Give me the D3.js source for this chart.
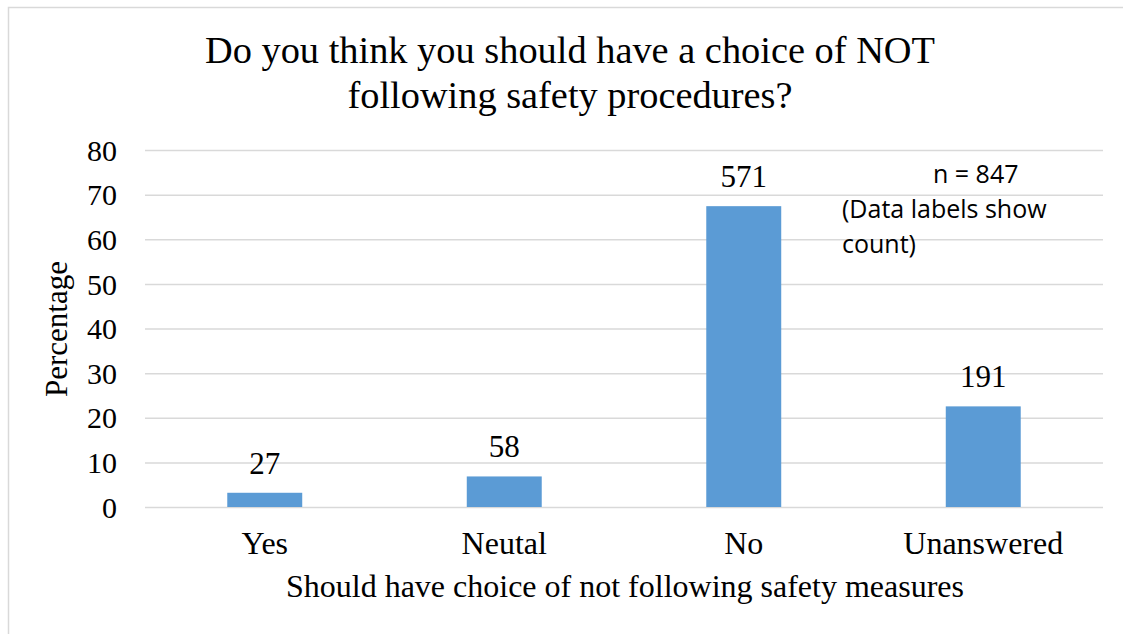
<!DOCTYPE html>
<html>
<head>
<meta charset="utf-8">
<script src="https://cdn.jsdelivr.net/npm/d3@7"></script>
<style>
  html, body { margin: 0; padding: 0; background: #fff; }
  svg { display: block; }
  .serif { font-family: "Liberation Serif", "Times New Roman", serif; fill: #000; }
  .sans { font-family: "Open Sans", "Liberation Sans", sans-serif; fill: #000; }
</style>
</head>
<body>
<svg id="chart" width="1123" height="634"></svg>
<script>
// Survey responses (counts); bar heights are the share of all respondents
const categories = ["Yes", "Neutal", "No", "Unanswered"];
const counts = [27, 58, 571, 191];
const totalRespondents = 847;
const yTicks = [0, 10, 20, 30, 40, 50, 60, 70, 80];
const titleLines = ["Do you think you should have a choice of NOT", "following safety procedures?"];
const noteLines = ["n = 847", "(Data labels show", "count)"];

const percents = counts.map(c => c / totalRespondents * 100);

const svg = d3.select("#chart");
const W = 1123, H = 634;
const plot = { left: 145, right: 1103, top: 150, bottom: 507 };

// chart frame
svg.append("rect")
  .attr("x", 8.5).attr("y", 7.5)
  .attr("width", W + 20).attr("height", H + 20)
  .attr("fill", "none").attr("stroke", "#d9d9d9").attr("stroke-width", 1.5);

const x = d3.scaleBand()
  .domain(categories)
  .range([plot.left, plot.right])
  .paddingInner(0.687).paddingOuter(0.3435);

const y = d3.scaleLinear().domain([0, 80]).range([plot.bottom, plot.top]);

// horizontal gridlines + tick labels
const yAxis = d3.axisLeft(y).tickValues(yTicks).tickSize(-(plot.right - plot.left)).tickPadding(28);
const gy = svg.append("g").attr("transform", `translate(${plot.left},0)`).call(yAxis);
gy.select(".domain").remove();
gy.selectAll(".tick line").attr("stroke", "#d9d9d9").attr("stroke-width", 1.5);
gy.selectAll(".tick text")
  .attr("class", "serif")
  .attr("font-size", 30)
  .attr("dy", "0.34em");

// bars
svg.append("g").selectAll("rect")
  .data(categories)
  .join("rect")
  .attr("x", d => x(d))
  .attr("width", x.bandwidth())
  .attr("y", (d, i) => y(percents[i]))
  .attr("height", (d, i) => y(0) - y(percents[i]))
  .attr("fill", "#5b9bd5");

// count labels above bars
svg.append("g").selectAll("text")
  .data(categories)
  .join("text")
  .attr("class", "serif")
  .attr("font-size", 31)
  .attr("text-anchor", "middle")
  .attr("x", d => x(d) + x.bandwidth() / 2)
  .attr("y", (d, i) => y(percents[i]) - 19)
  .text((d, i) => counts[i]);

// category axis labels
const xAxis = d3.axisBottom(x).tickSize(0).tickPadding(0);
const gx = svg.append("g").attr("transform", `translate(0,${plot.bottom})`).call(xAxis);
gx.select(".domain").remove();
gx.selectAll(".tick text")
  .attr("class", "serif")
  .attr("font-size", 32)
  .attr("dy", null)
  .attr("y", 47);

// title
svg.append("g").selectAll("text")
  .data(titleLines)
  .join("text")
  .attr("class", "serif")
  .attr("font-size", 37)
  .attr("text-anchor", "middle")
  .attr("x", 570)
  .attr("y", (d, i) => 63 + i * 45)
  .attr("textLength", (d, i) => [730, 445][i])
  .attr("lengthAdjust", "spacingAndGlyphs")
  .text(d => d);

// axis titles
svg.append("text")
  .attr("class", "serif")
  .attr("font-size", 32)
  .attr("text-anchor", "middle")
  .attr("x", 625).attr("y", 597)
  .text("Should have choice of not following safety measures");

svg.append("text")
  .attr("class", "serif")
  .attr("font-size", 31)
  .attr("text-anchor", "middle")
  .attr("transform", "translate(67,329) rotate(-90)")
  .text("Percentage");

// sample-size note
svg.append("g").selectAll("text")
  .data(noteLines)
  .join("text")
  .attr("class", "sans")
  .attr("font-size", 25)
  .attr("x", (d, i) => i === 0 ? 933 : 842)
  .attr("y", (d, i) => 183 + i * 35)
  .text(d => d);
</script>
</body>
</html>
